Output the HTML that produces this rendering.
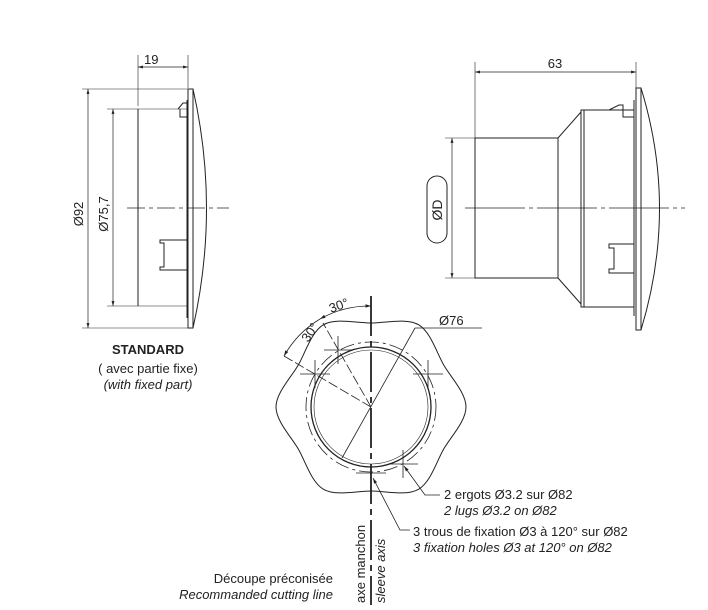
<!DOCTYPE html>
<html><head><meta charset="utf-8"><style>
html,body{margin:0;padding:0;background:#fff}
svg{display:block}
text{font-family:"Liberation Sans",sans-serif;fill:#222}
</style></head><body>
<svg width="708" height="610" viewBox="0 0 708 610" xmlns="http://www.w3.org/2000/svg">
<defs>
<marker id="a" viewBox="0 0 10 10" refX="10" refY="5" markerWidth="7" markerHeight="7" orient="auto-start-reverse"><path d="M0,2 L10,5 L0,8z" fill="#222"/></marker>
</defs>
<g stroke="#222" fill="none" stroke-width="1">
<!-- LEFT VIEW -->
<line x1="138" y1="55" x2="138" y2="106" stroke-width="0.6"/>
<line x1="188" y1="55" x2="188" y2="88" stroke-width="0.6"/>
<line x1="138" y1="67" x2="188" y2="67" marker-start="url(#a)" marker-end="url(#a)" stroke-width="0.7"/>
<line x1="82" y1="89" x2="190" y2="89" stroke-width="0.6"/>
<line x1="82" y1="328" x2="190" y2="328" stroke-width="0.6"/>
<line x1="88" y1="89" x2="88" y2="328" marker-start="url(#a)" marker-end="url(#a)" stroke-width="0.7"/>
<line x1="107" y1="109" x2="187" y2="109" stroke-width="0.6"/>
<line x1="107" y1="306" x2="187" y2="306" stroke-width="0.6"/>
<line x1="113" y1="109" x2="113" y2="306" marker-start="url(#a)" marker-end="url(#a)" stroke-width="0.7"/>
<line x1="138" y1="109" x2="138" y2="306"/>
<line x1="187" y1="100" x2="187" y2="318"/>
<rect x="188" y="89" width="5" height="239"/>
<path d="M193,89 Q220,208 193,328"/>
<path d="M178,109 l5,-6 l4,0 M180,109 v8 h7"/>
<path d="M160,240 h27 v30 h-27 v-3 h4 v-24 h-4z"/>
<line x1="127" y1="208" x2="229" y2="208" stroke-dasharray="18,4,4,4" stroke-width="0.8"/>
<!-- RIGHT VIEW -->
<line x1="475" y1="62" x2="475" y2="138" stroke-width="0.6"/>
<line x1="636" y1="62" x2="636" y2="88" stroke-width="0.6"/>
<line x1="475" y1="72" x2="636" y2="72" marker-start="url(#a)" marker-end="url(#a)" stroke-width="0.7"/>
<line x1="445" y1="138" x2="475" y2="138" stroke-width="0.6"/>
<line x1="445" y1="278" x2="475" y2="278" stroke-width="0.6"/>
<line x1="452" y1="138" x2="452" y2="278" marker-start="url(#a)" marker-end="url(#a)" stroke-width="0.7"/>
<rect x="427" y="176" width="20" height="67" rx="10"/>
<rect x="475" y="138" width="83" height="140"/>
<path d="M558,138 L581,112 M558,278 L581,304"/>
<rect x="581" y="110" width="3" height="197"/>
<line x1="584" y1="110" x2="634" y2="110"/><line x1="584" y1="307" x2="634" y2="307"/>
<line x1="634" y1="100" x2="634" y2="316"/>
<rect x="636" y="88" width="5" height="242"/>
<path d="M641,88 Q678,208 641,330"/>
<path d="M609,110 l10,-5 l4,0 v12 h11"/>
<path d="M609,244 h25 v29 h-25 v-4 h5 v-21 h-5z"/>
<line x1="465" y1="208" x2="685" y2="208" stroke-dasharray="60,4,4,4" stroke-width="0.8"/>
<!-- FRONT VIEW -->
<path d="M466,407 C466,421 450.7,436.9 443.7,449 C436.7,461.1 430.6,482.3 418.5,489.3 C406.4,496.3 385,491 371,491 C357,491 335.6,496.3 323.5,489.3 C311.4,482.3 305.3,461.1 298.3,449 C291.3,436.9 276,421 276,407 C276,393 291.3,377.1 298.3,365 C305.3,352.9 311.4,331.7 323.5,324.7 C335.6,317.7 357,323 371,323 C385,323 406.4,317.7 418.5,324.7 C430.6,331.7 436.7,352.9 443.7,365 C450.7,377.1 466,393 466,407Z"/>
<circle cx="371" cy="407" r="60" stroke-width="1.3"/>
<circle cx="371" cy="407" r="57" stroke-width="0.6"/>
<circle cx="371" cy="407" r="65" stroke-dasharray="14,4,3,4" stroke-width="0.8"/>
<g stroke-width="0.8">
<path d="M324,350 h28 M338,336 v28"/>
<path d="M300,374 h30 M315,360 v28"/>
<path d="M413,374 h30 M428,360 v28"/>
<path d="M388,464 h30 M403,450 v28"/>
<path d="M356,473 h30"/>
<line x1="371" y1="407" x2="323" y2="323" stroke-dasharray="10,3"/>
<line x1="371" y1="407" x2="284" y2="356" stroke-dasharray="10,3"/>
<line x1="342" y1="458" x2="415" y2="328"/>
<line x1="415" y1="328" x2="482" y2="328"/>
</g>
<path d="M371,306 A101,101 0 0 0 320,319" marker-start="url(#a)" marker-end="url(#a)" stroke-width="0.8"/>
<path d="M320,319 A101,101 0 0 0 284,356" marker-end="url(#a)" stroke-width="0.8"/>
<line x1="371" y1="296" x2="371" y2="605" stroke-width="1.8" stroke-dasharray="40,5,6,5"/>
<path d="M404,466 L425,495 L440,495" stroke-width="0.8" marker-start="url(#a)"/>
<path d="M373,478 L400,530 L410,530" stroke-width="0.8" marker-start="url(#a)"/>
</g>
<text x="144" y="64" font-size="13">19</text>
<text x="83" y="214" font-size="13" transform="rotate(-90 83 214)" text-anchor="middle">Ø92</text>
<text x="108" y="214" font-size="13" transform="rotate(-90 108 214)" text-anchor="middle">Ø75,7</text>
<text x="555" y="68" font-size="13" text-anchor="middle">63</text>
<text x="442" y="210" font-size="14" transform="rotate(-90 442 210)" text-anchor="middle">ØD</text>
<text x="439" y="325" font-size="13">Ø76</text>
<text x="308" y="343" font-size="13" transform="rotate(-55 308 343)">30°</text>
<text x="331" y="313" font-size="13" transform="rotate(-20 331 313)">30°</text>
<text x="148" y="354" font-size="13" font-weight="bold" text-anchor="middle">STANDARD</text>
<text x="148" y="373" font-size="13" text-anchor="middle">( avec partie fixe)</text>
<text x="148" y="389" font-size="13" font-style="italic" text-anchor="middle">(with fixed part)</text>
<text x="444" y="499" font-size="13">2 ergots Ø3.2 sur Ø82</text>
<text x="444" y="515" font-size="13" font-style="italic">2 lugs Ø3.2 on Ø82</text>
<text x="413" y="536" font-size="13">3 trous de fixation Ø3 à 120° sur Ø82</text>
<text x="413" y="552" font-size="13" font-style="italic">3 fixation holes Ø3 at 120° on Ø82</text>
<text x="333" y="583" font-size="13" text-anchor="end">Découpe préconisée</text>
<text x="333" y="599" font-size="13" font-style="italic" text-anchor="end">Recommanded cutting line</text>
<text x="365" y="603" font-size="13" transform="rotate(-90 365 603)">axe manchon</text>
<text x="385" y="603" font-size="13" font-style="italic" transform="rotate(-90 385 603)">sleeve axis</text>
</svg>
</body></html>
